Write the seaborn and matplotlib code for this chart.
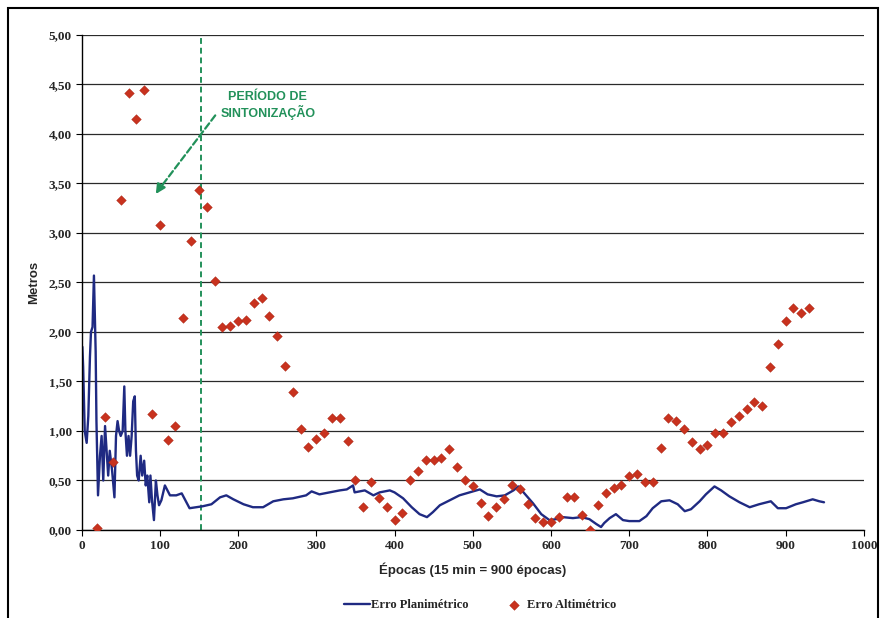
import matplotlib
matplotlib.use("Agg")
import matplotlib.pyplot as plt
from matplotlib.patches import Rectangle
import seaborn as sns
import pandas as pd

# Erro planimétrico (linha contínua) — época x erro em metros
plan_epoca = [1, 2, 4, 6.5, 8.6, 10.7, 12, 14, 15.8, 18, 19, 21, 23.5, 25.6, 27.7, 30,
              32, 34, 36, 39, 42, 44, 46, 48, 50, 52.5, 54.6, 56, 58, 60, 62, 64, 66,
              68, 69.5, 71, 73, 75.5, 77.5, 80, 82, 84, 86.5, 88, 90, 92.5, 95, 97, 99,
              102, 106.5, 113, 121, 128, 132, 138, 147, 155, 166, 177, 185, 194, 207,
              219, 232, 245, 258, 270, 287, 294, 304, 317, 330, 339, 347, 349, 362, 373,
              381, 394, 400, 411, 422, 432, 441.5, 449, 458, 470.5, 483, 496, 509, 519,
              530.5, 541, 552, 558.5, 566, 577, 587.6, 598, 607, 615, 628, 639, 649,
              658, 664, 668, 675, 683, 692, 700, 713, 722, 730, 741, 751.5, 762, 771,
              779, 790, 798, 809, 817.5, 828, 841, 854, 866, 881, 890, 900.5, 913, 922,
              934.5, 943, 949]
plan_erro = [1.85, 1.65, 1.00, 0.88, 1.15, 1.75, 2.00, 2.05, 2.57, 1.80, 1.10, 0.35,
             0.75, 0.95, 0.50, 1.05, 0.80, 0.55, 0.80, 0.60, 0.33, 0.95, 1.10, 1.00,
             0.95, 1.00, 1.45, 1.00, 0.75, 0.95, 0.75, 0.95, 1.30, 1.35, 0.80, 0.55,
             0.50, 0.75, 0.55, 0.70, 0.45, 0.55, 0.28, 0.55, 0.30, 0.10, 0.50, 0.35,
             0.25, 0.30, 0.45, 0.35, 0.35, 0.37, 0.31, 0.22, 0.23, 0.24, 0.26, 0.33,
             0.35, 0.31, 0.26, 0.23, 0.23, 0.29, 0.31, 0.32, 0.35, 0.39, 0.36, 0.38,
             0.40, 0.41, 0.45, 0.38, 0.40, 0.35, 0.38, 0.40, 0.38, 0.32, 0.23, 0.16,
             0.13, 0.18, 0.25, 0.30, 0.35, 0.38, 0.41, 0.36, 0.34, 0.35, 0.40, 0.44,
             0.37, 0.27, 0.16, 0.10, 0.11, 0.13, 0.12, 0.13, 0.11, 0.06, 0.03, 0.07,
             0.12, 0.16, 0.10, 0.09, 0.09, 0.14, 0.22, 0.29, 0.30, 0.26, 0.19, 0.21,
             0.29, 0.36, 0.44, 0.40, 0.34, 0.28, 0.23, 0.26, 0.29, 0.22, 0.22, 0.26,
             0.28, 0.31, 0.29, 0.28]

# Erro altimétrico (pontos a cada 10 épocas)
alt_epoca = [20, 30, 40, 50, 60, 70, 80, 90, 100, 110, 120, 130, 140, 150, 160, 170,
             180, 190, 200, 210, 220, 230, 240, 250, 260, 270, 280, 290, 300, 310, 320,
             330, 340, 350, 360, 370, 380, 390, 400, 410, 420, 430, 440, 450, 460, 470,
             480, 490, 500, 510, 520, 530, 540, 550, 560, 570, 580, 590, 600, 610, 620,
             630, 640, 650, 660, 670, 680, 690, 700, 710, 720, 730, 740, 750, 760, 770,
             780, 790, 800, 810, 820, 830, 840, 850, 860, 870, 880, 890, 900, 910, 920,
             930]
alt_erro = [0.02, 1.14, 0.69, 3.33, 4.41, 4.15, 4.44, 1.17, 3.08, 0.91,
            1.05, 2.14, 2.92, 3.43, 3.26, 2.52, 2.05, 2.06, 2.11, 2.12,
            2.29, 2.34, 2.16, 1.96, 1.66, 1.39, 1.02, 0.84, 0.92, 0.98,
            1.13, 1.13, 0.90, 0.51, 0.23, 0.48, 0.32, 0.23, 0.10, 0.17,
            0.50, 0.60, 0.71, 0.71, 0.73, 0.82, 0.64, 0.50, 0.44, 0.27,
            0.14, 0.23, 0.31, 0.45, 0.41, 0.26, 0.12, 0.08, 0.08, 0.13,
            0.33, 0.33, 0.15, 0.00, 0.25, 0.37, 0.42, 0.45, 0.55, 0.57,
            0.48, 0.48, 0.83, 1.13, 1.10, 1.02, 0.89, 0.82, 0.86, 0.98,
            0.98, 1.09, 1.15, 1.22, 1.29, 1.25, 1.65, 1.88, 2.11, 2.24,
            2.19, 2.24]

fim_sintonizacao = 153
x_ticks = list(range(0, 1001, 100))
y_ticks = [0, 0.5, 1.0, 1.5, 2.0, 2.5, 3.0, 3.5, 4.0, 4.5, 5.0]

AZUL = "#1F2A82"
VERMELHO = "#C8321E"
VERDE = "#22915A"

sns.set_style("white")
plt.rcParams["font.family"] = ["Liberation Sans", "DejaVu Sans"]

fig = plt.figure(figsize=(8.81, 6.18), dpi=100)
ax = fig.add_axes([0.0926, 0.1424, 0.888, 0.801])

df_plan = pd.DataFrame({"epoca": plan_epoca, "erro": plan_erro})
df_alt = pd.DataFrame({"epoca": alt_epoca, "erro": alt_erro})

sns.lineplot(data=df_plan, x="epoca", y="erro", ax=ax, color=AZUL, lw=1.7,
             estimator=None, label="Erro Planimétrico", zorder=2)
sns.scatterplot(data=df_alt, x="epoca", y="erro", ax=ax, marker="D", s=24,
                color=VERMELHO, edgecolor="#A82414", linewidth=0.3,
                label="Erro Altimétrico", zorder=3)

ax.axvline(fim_sintonizacao, color=VERDE, ls=(0, (3, 2)), lw=1.4, zorder=1)

# seta tracejada indicando o período de sintonização
ax.annotate("", xy=(98, 3.43), xytext=(173, 4.21),
            arrowprops=dict(arrowstyle="-", ls=(0, (3, 1.5)), color=VERDE, lw=1.6))
ax.annotate("", xy=(93, 3.37), xytext=(101, 3.47),
            arrowprops=dict(arrowstyle="-|>", color=VERDE, lw=1.6, mutation_scale=14))
ax.text(238, 4.29, "PERÍODO DE\nSINTONIZAÇÃO", ha="center", va="center",
        color=VERDE, fontsize=9, fontweight="bold", linespacing=1.2)

ax.set_xlim(0, 1000)
ax.set_ylim(0, 5)
ax.set_xticks(x_ticks)
ax.set_xticklabels([str(v) for v in x_ticks])
ax.set_yticks(y_ticks)
ax.set_yticklabels([f"{v:.2f}".replace(".", ",") for v in y_ticks])
for lab in ax.get_xticklabels() + ax.get_yticklabels():
    lab.set_fontfamily("Liberation Serif")
    lab.set_fontsize(9.5)
    lab.set_fontweight("bold")

ax.tick_params(bottom=True, left=True, direction="out", length=4, width=0.8,
               color="black", pad=3)
ax.yaxis.grid(True, color="#2a2a2a", lw=0.9)
ax.xaxis.grid(False)
for s in ("top", "right"):
    ax.spines[s].set_visible(False)
for s in ("left", "bottom"):
    ax.spines[s].set_color("black")
    ax.spines[s].set_linewidth(1.0)

ax.set_xlabel("Épocas (15 min = 900 épocas)", fontsize=9.5, fontweight="bold", labelpad=8)
ax.set_ylabel("Metros", fontsize=9.5, fontweight="bold", labelpad=6)

handles, labels = ax.get_legend_handles_labels()
ax.get_legend().remove()
fig.legend(handles, labels, loc="center", bbox_to_anchor=(0.545, 0.021), ncol=2,
           frameon=False, prop=dict(family="Liberation Serif", weight="bold", size=9),
           columnspacing=2.6, handlelength=2.1, handletextpad=0.05)

# moldura da área do gráfico
fig.patches.append(Rectangle((0.009, -0.05), 0.988, 1.037, transform=fig.transFigure,
                             fill=False, lw=1.5, ec="black"))

fig.savefig("out.png", dpi=100)
